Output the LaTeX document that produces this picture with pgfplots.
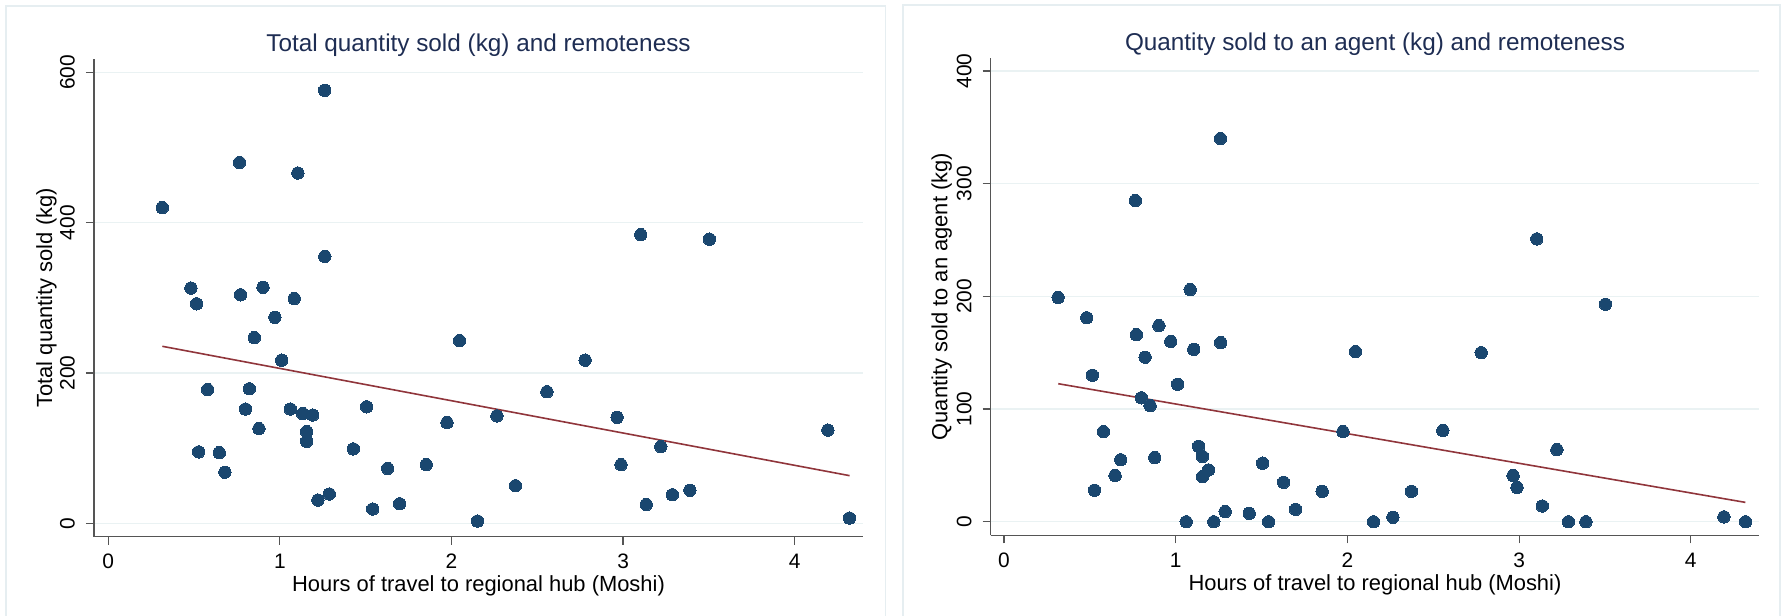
\documentclass[border=0pt]{standalone}
\usepackage{fontspec}
\setmainfont{Liberation Sans}
\usepackage{pgfplots}
\usepackage{pgfplotstable}
\pgfplotsset{compat=1.18}
\definecolor{stnavy}{HTML}{1A476F}
\definecolor{stmaroon}{HTML}{90353B}
\definecolor{stgrid}{HTML}{EAF2F3}
\definecolor{stframe}{HTML}{E6EEF1}
\definecolor{sttitle}{HTML}{1E2D53}
\definecolor{staxis}{HTML}{555555}

\pgfplotstableread{
x tot agent
0.315 420 199
0.482 313 181
0.515 292 130
0.527 95 28
0.579 178 80
0.647 94 41
0.680 68 55
0.765 480 285
0.771 304 166
0.800 152 110
0.822 179 146
0.851 247 103
0.878 126 57
0.902 314 174
0.971 274 160
1.011 217 122
1.061 152 0
1.084 299 206
1.105 466 153
1.133 146 67
1.156 122 58
1.156 109 40
1.191 144 46
1.222 31 0
1.261 576 340
1.262 355 159
1.288 39 9
1.428 99 7.5
1.506 155 52
1.541 19 0
1.628 73 35
1.698 26 11
1.853 78 27
1.974 134 80
2.047 243 151
2.152 3 0
2.265 143 4
2.373 50 27
2.556 175 81
2.779 217 150
2.965 141 41
2.988 78 30.5
3.103 384 251
3.135 25 14
3.220 102 64
3.287 38 0
3.389 44 0
3.503 378 193
4.193 124 4.4
4.319 7 0
}\data

\pgfplotsset{every axis title shift=0pt}
\pgfplotsset{stata/.style={
  scale only axis, anchor=south west, clip=false,
  axis x line*=bottom, axis y line*=left,
  axis line style={staxis, line width=1.2bp, -},
  every tick/.style={staxis, line width=1.2bp},
  tick align=outside, major tick length=8bp,
  xtick={0,1,2,3,4}, xmin=-0.083, xmax=4.398,
  ymajorgrids, major grid style={stgrid, line width=1.3bp},
  /pgf/number format/assume math mode=true,
  ticklabel style={font=\fontsize{21}{21}\selectfont, inner sep=0pt},
  yticklabel style={xshift=-11bp, rotate=90, anchor=south},
  xticklabel style={anchor=base, yshift=-24bp},
  title style={font=\fontsize{24.4}{24.4}\selectfont, text=sttitle, anchor=base, inner sep=0pt},
  label style={font=\fontsize{22}{22}\selectfont, inner sep=0pt},
  xlabel={Hours of travel to regional hub (Moshi)},
}}

\begin{document}
\begin{tikzpicture}
\draw[stframe, line width=1.5bp] (6bp,-5bp) -- (6bp,610bp) -- (885.7bp,610bp) -- (885.7bp,-5bp);
\draw[stframe, line width=1.5bp] (903bp,-5bp) -- (903bp,611bp) -- (1780bp,611bp) -- (1780bp,-5bp);

\begin{axis}[stata, at={(94bp,79.3bp)}, width=769bp, height=477.7bp,
  ymin=-17.8, ymax=617.7, ytick={0,200,400,600},
  title={Total quantity sold (kg) and remoteness},
  title style={at={(0.5,1.0147)}},
  xlabel style={at={(0.5,-0.1155)}, anchor=base},
  ylabel={Total quantity sold (kg)},
  ylabel style={at={(-0.0545,0.5)}, anchor=base},
]
\addplot[only marks, mark=*, mark size=6.2bp, mark options={fill=stnavy, draw=stnavy, line width=0pt}] table[x=x, y=tot] {\data};
\addplot[stmaroon, line width=1.6bp, no marks] coordinates {(0.315,235.5) (4.32,63.4)};
\end{axis}

\begin{axis}[stata, at={(990.7bp,80.7bp)}, width=768.6bp, height=477.3bp,
  ymin=-12, ymax=411.5, ytick={0,100,200,300,400},
  xmin=-0.0775, xmax=4.399,
  title={Quantity sold to an agent (kg) and remoteness},
  title style={at={(0.5,1.0147)}},
  xlabel style={at={(0.5,-0.1155)}, anchor=base},
  ylabel={Quantity sold to an agent (kg)},
  ylabel style={at={(-0.0565,0.5)}, anchor=base},
]
\addplot[only marks, mark=*, mark size=6.2bp, mark options={fill=stnavy, draw=stnavy, line width=0pt}] table[x=x, y=agent] {\data};
\addplot[stmaroon, line width=1.6bp, no marks] coordinates {(0.316,122.5) (4.318,17.2)};
\end{axis}
\pgfresetboundingbox
\useasboundingbox (0,0) rectangle (1781bp,616bp);
\end{tikzpicture}
\end{document}
